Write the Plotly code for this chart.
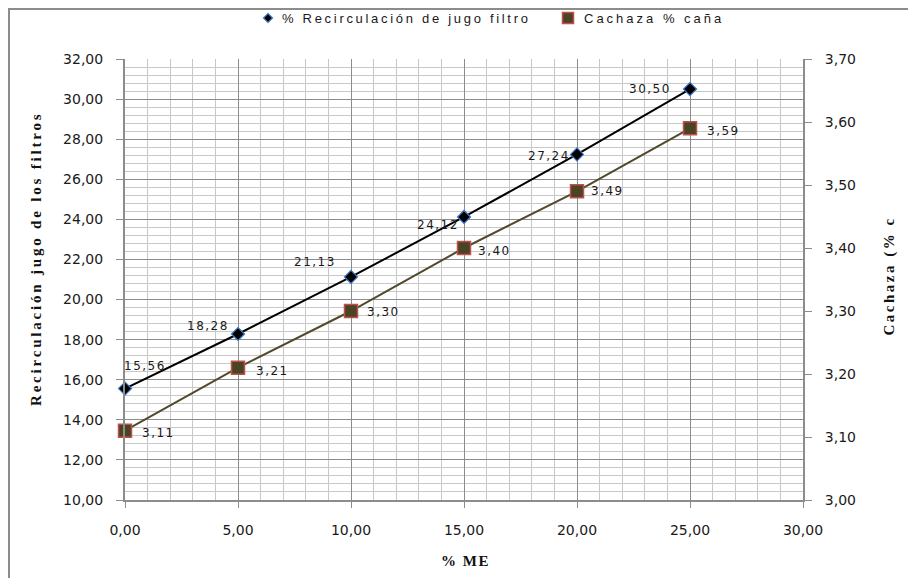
import plotly.graph_objects as go

# % ME dosage levels
me_pct = [0, 5, 10, 15, 20, 25]
# % recirculation of filter juice (left axis)
recirculacion = [15.56, 18.28, 21.13, 24.12, 27.24, 30.50]
# filter cake as % of cane (right axis)
cachaza = [3.11, 3.21, 3.30, 3.40, 3.49, 3.59]

name_recirc = "% Recirculación de jugo filtro"
name_cachaza = "Cachaza % caña"

# plot area in pixels
W, H = 908, 578
L, R, T, B = 125, 105, 59, 78
PW, PH = W - L - R, H - T - B


def px_x(px):
    return (px - L) / PW


def px_y(py):
    return (H - B - py) / PH


def spaced(text, sp):
    return f'<span style="letter-spacing:{sp}px">{text}</span>'


tick_font = dict(family="DejaVu Sans", size=14, color="#1a1a1a")
label_font = dict(family="DejaVu Sans", size=12, color="#1a1a1a")
title_font = dict(family="Liberation Serif", size=15, color="#111111", weight="bold")
legend_font = dict(family="Liberation Sans", size=13, color="#1a1a1a")

fig = go.Figure()

fig.add_trace(go.Scatter(
    x=me_pct, y=recirculacion, name=name_recirc, mode="lines+markers",
    line=dict(color="#000000", width=2),
    marker=dict(symbol="diamond", size=10, color="#000000",
                line=dict(color="#3a76c4", width=1.2)),
    showlegend=False, cliponaxis=False,
))

fig.add_trace(go.Scatter(
    x=me_pct, y=cachaza, name=name_cachaza, mode="lines+markers",
    yaxis="y2",
    line=dict(color="#51492a", width=2),
    marker=dict(symbol="square", size=13, color="#4a4324",
                line=dict(color="#c0504d", width=1.5)),
    showlegend=False, cliponaxis=False,
))

# value labels (pixel offsets from each point)
recirc_offsets = [(20, -23), (-30, -8), (-36, -15), (-26, 8), (-28, 2), (-40, 0)]
cachaza_offsets = [(33, 2), (34, 3), (32, 1), (30, 3), (30, 0), (33, 3)]

annotations = []
for xv, yv, (dx, dy) in zip(me_pct, recirculacion, recirc_offsets):
    annotations.append(dict(
        x=xv, y=yv, xref="x", yref="y", text=spaced(f"{yv:.2f}".replace(".", ","), 1.5),
        showarrow=False, xshift=dx, yshift=-dy, font=label_font,
        xanchor="center", yanchor="middle"))
for xv, yv, (dx, dy) in zip(me_pct, cachaza, cachaza_offsets):
    annotations.append(dict(
        x=xv, y=yv, xref="x", yref="y2", text=spaced(f"{yv:.2f}".replace(".", ","), 1.5),
        showarrow=False, xshift=dx, yshift=-dy, font=label_font,
        xanchor="center", yanchor="middle"))

# axis titles
annotations += [
    dict(text=spaced("% ME", 1.5), xref="paper", yref="paper", x=px_x(465), y=px_y(561),
         showarrow=False, font=title_font, xanchor="center", yanchor="middle"),
    dict(text=spaced("Recirculación jugo de los filtros", 2.8), xref="paper", yref="paper",
         x=px_x(36), y=px_y(259), textangle=-90, showarrow=False, font=title_font,
         xanchor="center", yanchor="middle"),
    dict(text=spaced("Cachaza (% c", 2.5), xref="paper", yref="paper",
         x=px_x(889), y=px_y(337), textangle=-90, showarrow=False, font=title_font,
         xanchor="center", yanchor="bottom"),
]

# legend
annotations += [
    dict(text=spaced(name_recirc, 2.7), xref="paper", yref="paper", x=px_x(280), y=px_y(18),
         showarrow=False, font=legend_font, xanchor="left", yanchor="middle"),
    dict(text=spaced(name_cachaza, 3.0), xref="paper", yref="paper", x=px_x(582), y=px_y(18),
         showarrow=False, font=legend_font, xanchor="left", yanchor="middle"),
]


def diamond(cx, cy, r):
    pts = [(cx, cy - r), (cx + r, cy), (cx, cy + r), (cx - r, cy)]
    return "M " + " L ".join(f"{px_x(a):.5f},{px_y(b):.5f}" for a, b in pts) + " Z"


shapes = [
    # chart frame
    dict(type="rect", xref="paper", yref="paper",
         x0=px_x(9), x1=px_x(920), y0=px_y(590), y1=px_y(9),
         line=dict(color="#8c8c8c", width=2), fillcolor="rgba(0,0,0,0)", layer="below"),
    # legend symbols
    dict(type="path", xref="paper", yref="paper", path=diamond(268, 18, 4.5),
         fillcolor="#000000", line=dict(color="#3a76c4", width=1.2)),
    dict(type="rect", xref="paper", yref="paper",
         x0=px_x(562.5), x1=px_x(573.5), y0=px_y(23.5), y1=px_y(12.5),
         fillcolor="#4a4324", line=dict(color="#c0504d", width=1.5)),
]

fig.update_layout(
    width=W, height=H,
    margin=dict(l=L, r=R, t=T, b=B, autoexpand=False),
    paper_bgcolor="white", plot_bgcolor="white",
    separators=",.",
    showlegend=False,
    xaxis=dict(
        range=[0, 30], dtick=5, tickformat=".2f",
        showgrid=True, gridcolor="#8c8c8c", gridwidth=1,
        minor=dict(dtick=1, showgrid=True, gridcolor="#c8c8c8", gridwidth=1),
        showline=True, linecolor="#8c8c8c", linewidth=2,
        ticks="outside", ticklen=6, tickcolor="#8c8c8c",
        tickfont=tick_font, zeroline=False, ticklabelstandoff=10,
    ),
    yaxis=dict(
        range=[10, 32], dtick=2, tickformat=".2f",
        showgrid=True, gridcolor="#8c8c8c", gridwidth=1,
        minor=dict(dtick=0.4, showgrid=True, gridcolor="#c8c8c8", gridwidth=1),
        showline=True, linecolor="#8c8c8c", linewidth=2,
        ticks="outside", ticklen=7, tickcolor="#8c8c8c",
        tickfont=tick_font, zeroline=False, ticklabelstandoff=10,
    ),
    yaxis2=dict(
        range=[3.0, 3.7], dtick=0.1, tickformat=".2f",
        overlaying="y", side="right", showgrid=False,
        showline=True, linecolor="#8c8c8c", linewidth=2,
        ticks="outside", ticklen=7, tickcolor="#8c8c8c",
        tickfont=tick_font, zeroline=False, ticklabelstandoff=10,
    ),
    annotations=annotations,
    shapes=shapes,
)

fig.write_html("out.html")
